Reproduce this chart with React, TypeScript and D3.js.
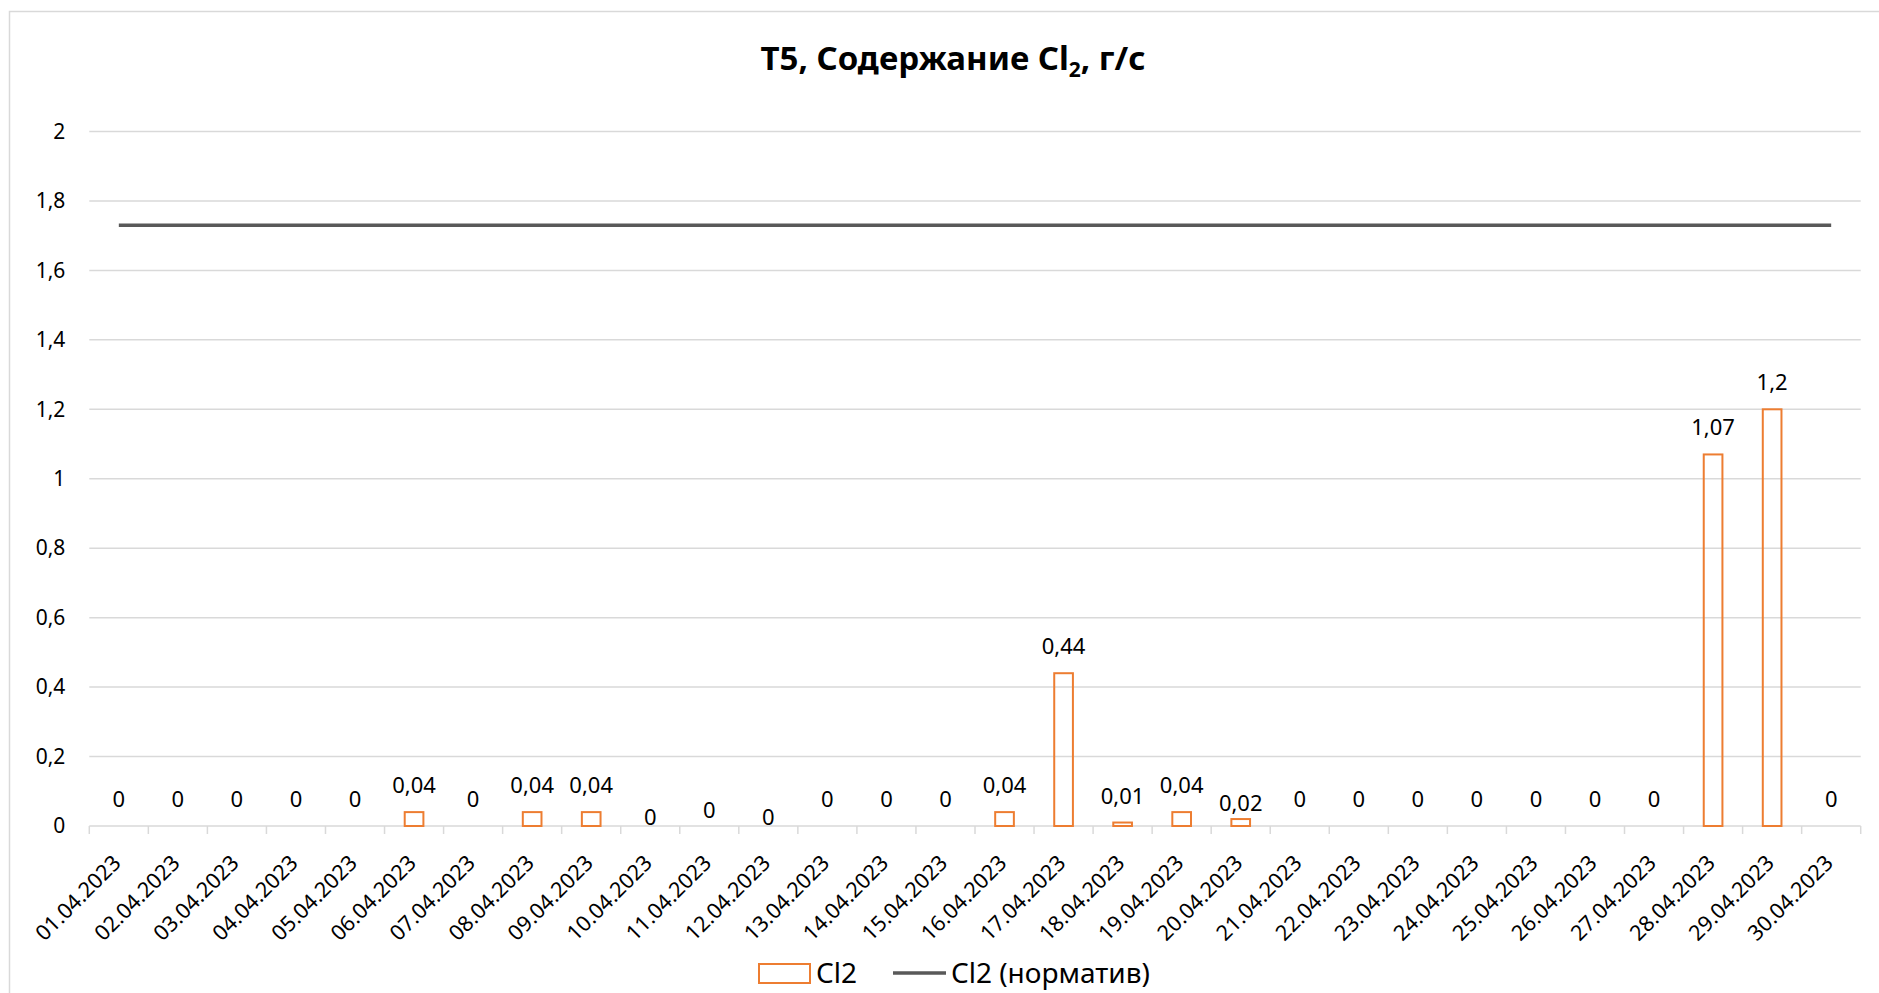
import React, { useEffect, useRef } from "react";
import * as d3 from "d3";

// categories (days of April 2023)
const dates = [
  "01.04.2023", "02.04.2023", "03.04.2023", "04.04.2023", "05.04.2023",
  "06.04.2023", "07.04.2023", "08.04.2023", "09.04.2023", "10.04.2023",
  "11.04.2023", "12.04.2023", "13.04.2023", "14.04.2023", "15.04.2023",
  "16.04.2023", "17.04.2023", "18.04.2023", "19.04.2023", "20.04.2023",
  "21.04.2023", "22.04.2023", "23.04.2023", "24.04.2023", "25.04.2023",
  "26.04.2023", "27.04.2023", "28.04.2023", "29.04.2023", "30.04.2023",
];

// Cl2, g/s
const cl2 = [
  0, 0, 0, 0, 0, 0.04, 0, 0.04, 0.04, 0,
  0, 0, 0, 0, 0, 0.04, 0.44, 0.01, 0.04, 0.02,
  0, 0, 0, 0, 0, 0, 0, 1.07, 1.2, 0,
];

// Cl2 norm
const cl2Norm = dates.map(() => 1.73);

const yTicks = [0, 0.2, 0.4, 0.6, 0.8, 1, 1.2, 1.4, 1.6, 1.8, 2];

// labels that were dragged down a bit in the original
const labelDrop: Record<string, number> = {
  "10.04.2023": 18,
  "11.04.2023": 11,
  "12.04.2023": 18,
  "20.04.2023": 11,
};

const ORANGE = "#ED7D31";
const GRID = "#d9d9d9";
const NORM = "#595959";
const FONT = "'Noto Sans', sans-serif";

const fmt = (d: number) => String(+d.toFixed(2)).replace(".", ",");

function Chart() {
  const ref = useRef<SVGSVGElement>(null);

  useEffect(() => {
    const svg = d3.select(ref.current);
    svg.selectAll("*").remove();

    const left = 89.3, right = 1860.7, top = 131.5, bottom = 826;

    const x = d3.scaleBand().domain(dates).range([left, right]).padding(0);
    const y = d3.scaleLinear().domain([0, 2]).range([bottom, top]);
    const barW = x.bandwidth() / 3.16;

    // chart frame
    svg.append("rect")
      .attr("x", 9.5).attr("y", 11.5)
      .attr("width", 1900).attr("height", 1000)
      .attr("fill", "#fff")
      .attr("stroke", GRID).attr("stroke-width", 1.5);

    // title
    const title = svg.append("text")
      .attr("x", 953).attr("y", 70)
      .attr("text-anchor", "middle")
      .attr("font-family", FONT)
      .attr("font-weight", "bold")
      .attr("font-size", 33)
      .attr("fill", "#000");
    title.append("tspan").text("T5, Содержание Cl");
    title.append("tspan").attr("font-size", 21).attr("dy", 7).text("2");
    title.append("tspan").attr("dy", -7).text(", г/с");

    // gridlines
    svg.selectAll(".grid")
      .data(yTicks.slice(1))
      .join("line")
      .attr("class", "grid")
      .attr("x1", left).attr("x2", right)
      .attr("y1", (d) => y(d)).attr("y2", (d) => y(d))
      .attr("stroke", GRID).attr("stroke-width", 1.5);

    // y axis labels
    const yAxis = svg.append("g")
      .attr("transform", `translate(${left},0)`)
      .call(d3.axisLeft(y).tickValues(yTicks).tickSize(0).tickPadding(24).tickFormat((d) => fmt(+d)));
    yAxis.select(".domain").remove();
    yAxis.selectAll("text")
      .attr("font-family", FONT).attr("font-size", 21).attr("fill", "#000");

    // x axis
    const xAxis = svg.append("g")
      .attr("transform", `translate(0,${bottom})`)
      .call(d3.axisBottom(x).tickSize(0).tickFormat(() => ""));
    xAxis.select(".domain").attr("stroke", GRID).attr("stroke-width", 1.5)
      .attr("d", `M${left},0H${right}`);
    xAxis.selectAll(".tick").remove();

    const edges = dates.map((d) => x(d) as number).concat([right]);
    svg.selectAll(".xtick")
      .data(edges)
      .join("line")
      .attr("class", "xtick")
      .attr("x1", (d) => d).attr("x2", (d) => d)
      .attr("y1", bottom).attr("y2", bottom + 8)
      .attr("stroke", GRID).attr("stroke-width", 1.5);

    svg.selectAll(".xlabel")
      .data(dates)
      .join("text")
      .attr("class", "xlabel")
      .attr("transform", (d) => `translate(${(x(d) as number) + x.bandwidth() / 2 - 2},${bottom + 33}) rotate(-45)`)
      .attr("text-anchor", "end")
      .attr("dy", "0.35em")
      .attr("font-family", FONT).attr("font-size", 21.5).attr("fill", "#000")
      .text((d) => d);

    // bars
    svg.selectAll(".bar")
      .data(cl2)
      .join("rect")
      .attr("class", "bar")
      .attr("x", (d, i) => (x(dates[i]) as number) + x.bandwidth() / 2 - barW / 2)
      .attr("y", (d) => y(d))
      .attr("width", barW)
      .attr("height", (d) => bottom - y(d))
      .attr("fill", "none")
      .attr("stroke", ORANGE).attr("stroke-width", 2)
      .attr("display", (d) => (d > 0 ? null : "none"));

    // norm line
    const line = d3.line<number>()
      .x((d, i) => (x(dates[i]) as number) + x.bandwidth() / 2)
      .y((d) => y(d));
    svg.append("path")
      .attr("d", line(cl2Norm))
      .attr("fill", "none")
      .attr("stroke", NORM).attr("stroke-width", 3.5);

    // data labels
    svg.selectAll(".vlabel")
      .data(cl2)
      .join("text")
      .attr("class", "vlabel")
      .attr("x", (d, i) => (x(dates[i]) as number) + x.bandwidth() / 2)
      .attr("y", (d, i) => y(d) - 19 + (labelDrop[dates[i]] || 0))
      .attr("text-anchor", "middle")
      .attr("font-family", FONT).attr("font-size", 22).attr("fill", "#000")
      .text((d) => fmt(d));

    // legend
    const lg = svg.append("g").attr("font-family", FONT).attr("font-size", 28).attr("fill", "#000");
    lg.append("rect")
      .attr("x", 759).attr("y", 964).attr("width", 51).attr("height", 19)
      .attr("fill", "none").attr("stroke", ORANGE).attr("stroke-width", 2);
    lg.append("text").attr("x", 816).attr("y", 983).text("Cl2");
    lg.append("line")
      .attr("x1", 893).attr("x2", 946).attr("y1", 973).attr("y2", 973)
      .attr("stroke", NORM).attr("stroke-width", 3.5);
    lg.append("text").attr("x", 951).attr("y", 983).text("Cl2 (норматив)");
  }, []);

  return (
    <svg ref={ref} width={1879} height={993} style={{ position: "absolute", left: 0, top: 0 }} />
  );
}

export default function App() {
  return <Chart />;
}
